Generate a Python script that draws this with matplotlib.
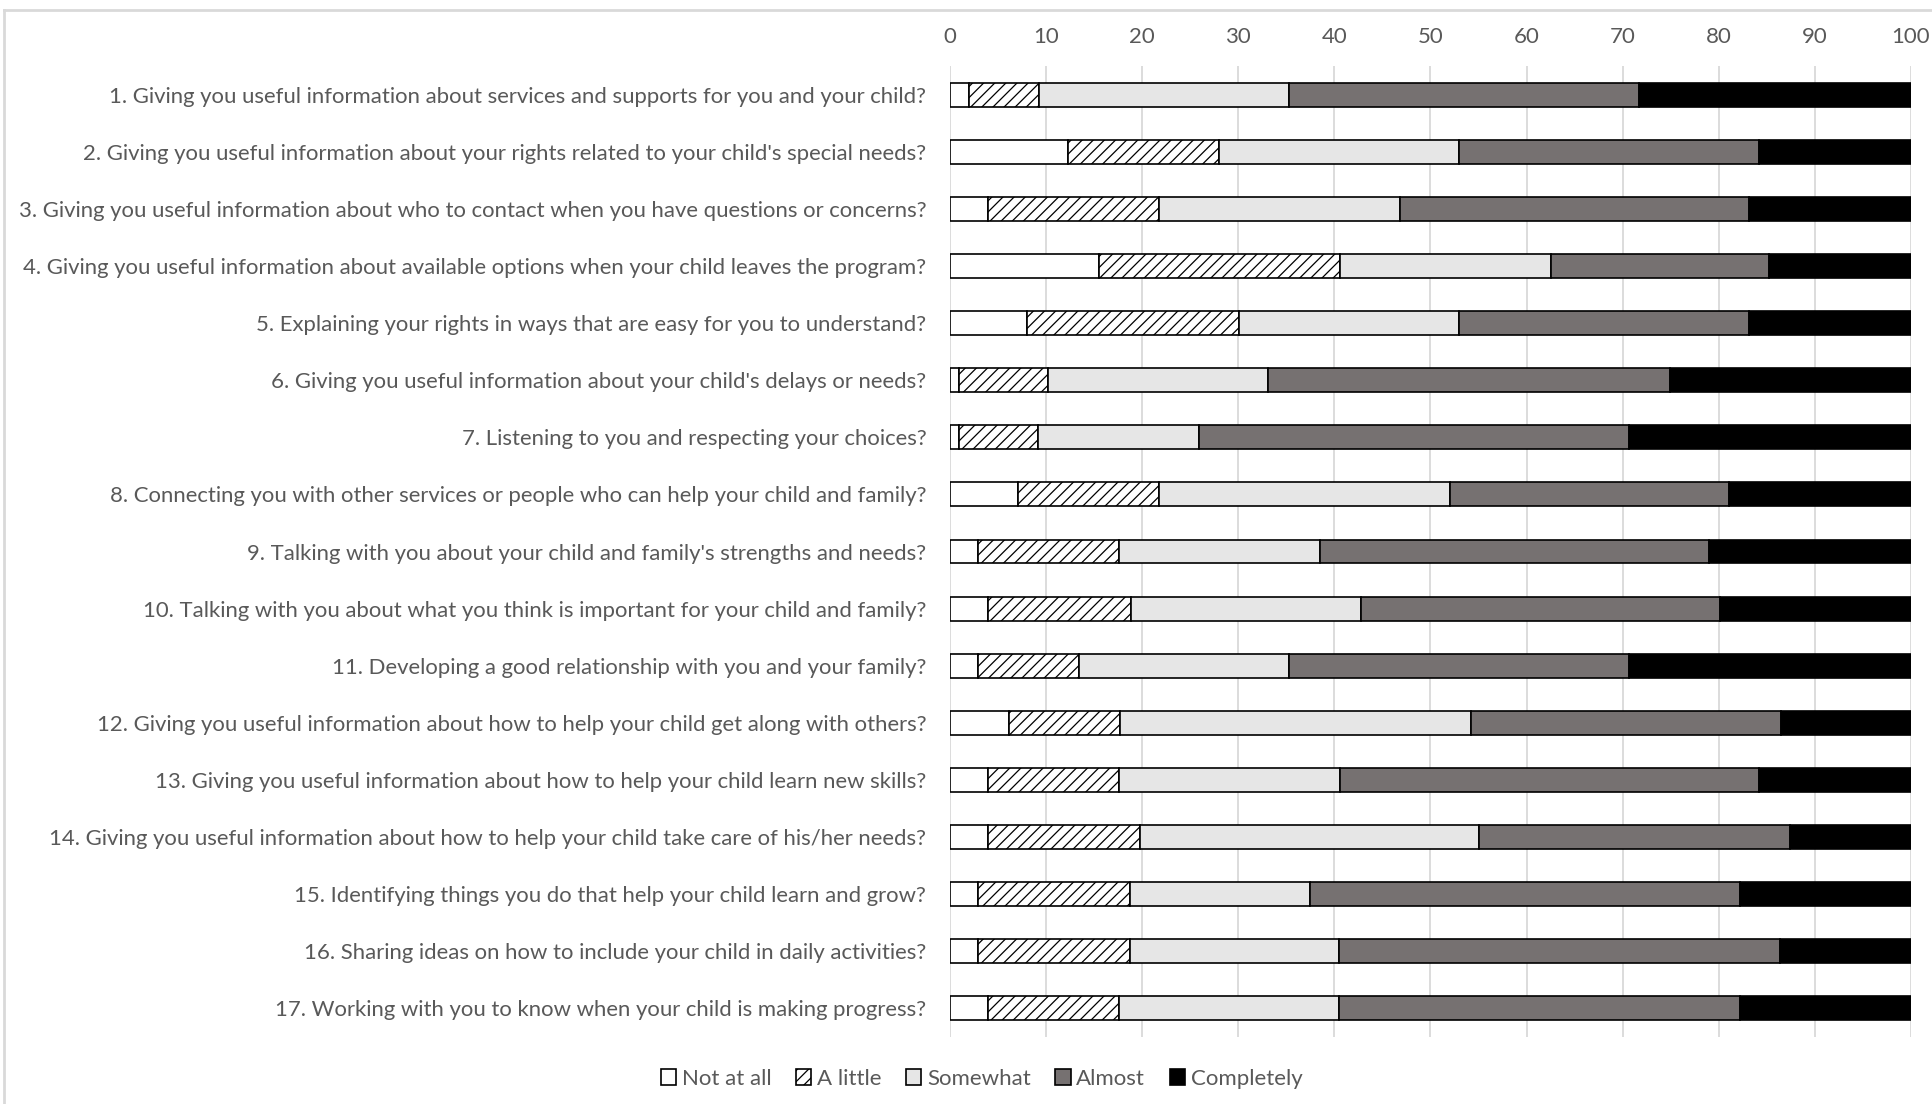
import numpy as np
import matplotlib
matplotlib.use("Agg")
from matplotlib import pyplot as plt
from matplotlib.patches import Patch
from matplotlib.lines import Line2D

questions = [
    "1. Giving you useful information about services and supports for you and your child?",
    "2. Giving you useful information about your rights related to your child's special needs?",
    "3. Giving you useful information about who to contact when you have questions or concerns?",
    "4. Giving you useful information about available options when your child leaves the program?",
    "5. Explaining your rights in ways that are easy for you to understand?",
    "6. Giving you useful information about your child's delays or needs?",
    "7. Listening to you and respecting your choices?",
    "8. Connecting you with other services or people who can help your child and family?",
    "9. Talking with you about your child and family's strengths and needs?",
    "10. Talking with you about what you think is important for your child and family?",
    "11. Developing a good relationship with you and your family?",
    "12. Giving you useful information about how to help your child get along with others?",
    "13. Giving you useful information about how to help your child learn new skills?",
    "14. Giving you useful information about how to help your child take care of his/her needs?",
    "15. Identifying things you do that help your child learn and grow?",
    "16. Sharing ideas on how to include your child in daily activities?",
    "17. Working with you to know when your child is making progress?",
]

responses = ["Not at all", "A little", "Somewhat", "Almost", "Completely"]

not_at_all = [2.0, 12.3, 4.0, 15.5, 8.0, 0.9, 0.9, 7.1, 2.9, 4.0, 2.9, 6.1, 4.0, 4.0, 2.9, 2.9, 4.0]
a_little   = [7.3, 15.7, 17.8, 25.1, 22.1, 9.3, 8.3, 14.7, 14.7, 14.8, 10.5, 11.6, 13.6, 15.8, 15.8, 15.8, 13.6]
somewhat   = [26.0, 25.0, 25.0, 21.9, 22.9, 22.9, 16.7, 30.2, 20.9, 24.0, 21.9, 36.5, 23.0, 35.3, 18.8, 21.8, 22.9]
almost     = [36.4, 31.2, 36.4, 22.7, 30.2, 41.8, 44.8, 29.1, 40.5, 37.3, 35.4, 32.3, 43.6, 32.3, 44.7, 45.9, 41.7]
completely = [28.3, 15.8, 16.8, 14.8, 16.8, 25.1, 29.3, 18.9, 21.0, 19.9, 29.3, 13.5, 15.8, 12.6, 17.8, 13.6, 17.8]

xticks = list(range(0, 101, 10))

fills = ["white", "white", "#e6e6e6", "#767171", "black"]
hatches = [None, "///", None, None, None]
text_color = "#595959"

plt.rcParams["font.family"] = ["Lato", "DejaVu Sans"]
plt.rcParams["hatch.linewidth"] = 0.9
plt.rcParams["hatch.color"] = "black"

fig = plt.figure(figsize=(19.32, 11.04), dpi=100)
ax = fig.add_axes([0.4917, 0.0611, 0.4974, 0.8787])

series = [not_at_all, a_little, somewhat, almost, completely]
y = np.arange(len(questions))
left = np.zeros(len(questions))
for vals, name, fc, hatch in zip(series, responses, fills, hatches):
    vals = np.array(vals)
    ax.barh(y, vals, left=left, height=0.42, color=fc, edgecolor="black",
            linewidth=1.2, hatch=hatch, label=name, zorder=3)
    left += vals

ax.set_ylim(len(questions) - 0.5, -0.5)
ax.set_xlim(0, 100)
ax.set_yticks(y)
ax.set_yticklabels(questions, fontsize=15.9, color=text_color)
ax.set_xticks(xticks)
ax.xaxis.tick_top()
ax.tick_params(axis="x", length=0, pad=14, labelsize=16, labelcolor=text_color)
ax.tick_params(axis="y", length=0, pad=17)
ax.grid(axis="x", color="#d9d9d9", linewidth=1.3, zorder=0)
for s in ax.spines.values():
    s.set_visible(False)

# light frame around the chart area (top and left edges visible)
fig.add_artist(Line2D([0.002, 0.002], [0.0, 0.991], transform=fig.transFigure,
                      color="#d9d9d9", linewidth=2))
fig.add_artist(Line2D([0.002, 1.0], [0.991, 0.991], transform=fig.transFigure,
                      color="#d9d9d9", linewidth=2))

handles = [Patch(facecolor=fc, edgecolor="black", hatch=h, linewidth=1.2)
           for fc, h in zip(fills, hatches)]
fig.legend(handles, responses, loc="center", bbox_to_anchor=(0.508, 0.0226),
           ncol=5, frameon=False, fontsize=16, labelcolor=text_color,
           handlelength=0.7, handleheight=0.7, handletextpad=0.25, columnspacing=1.1)

plt.savefig("out.png", dpi=100)
